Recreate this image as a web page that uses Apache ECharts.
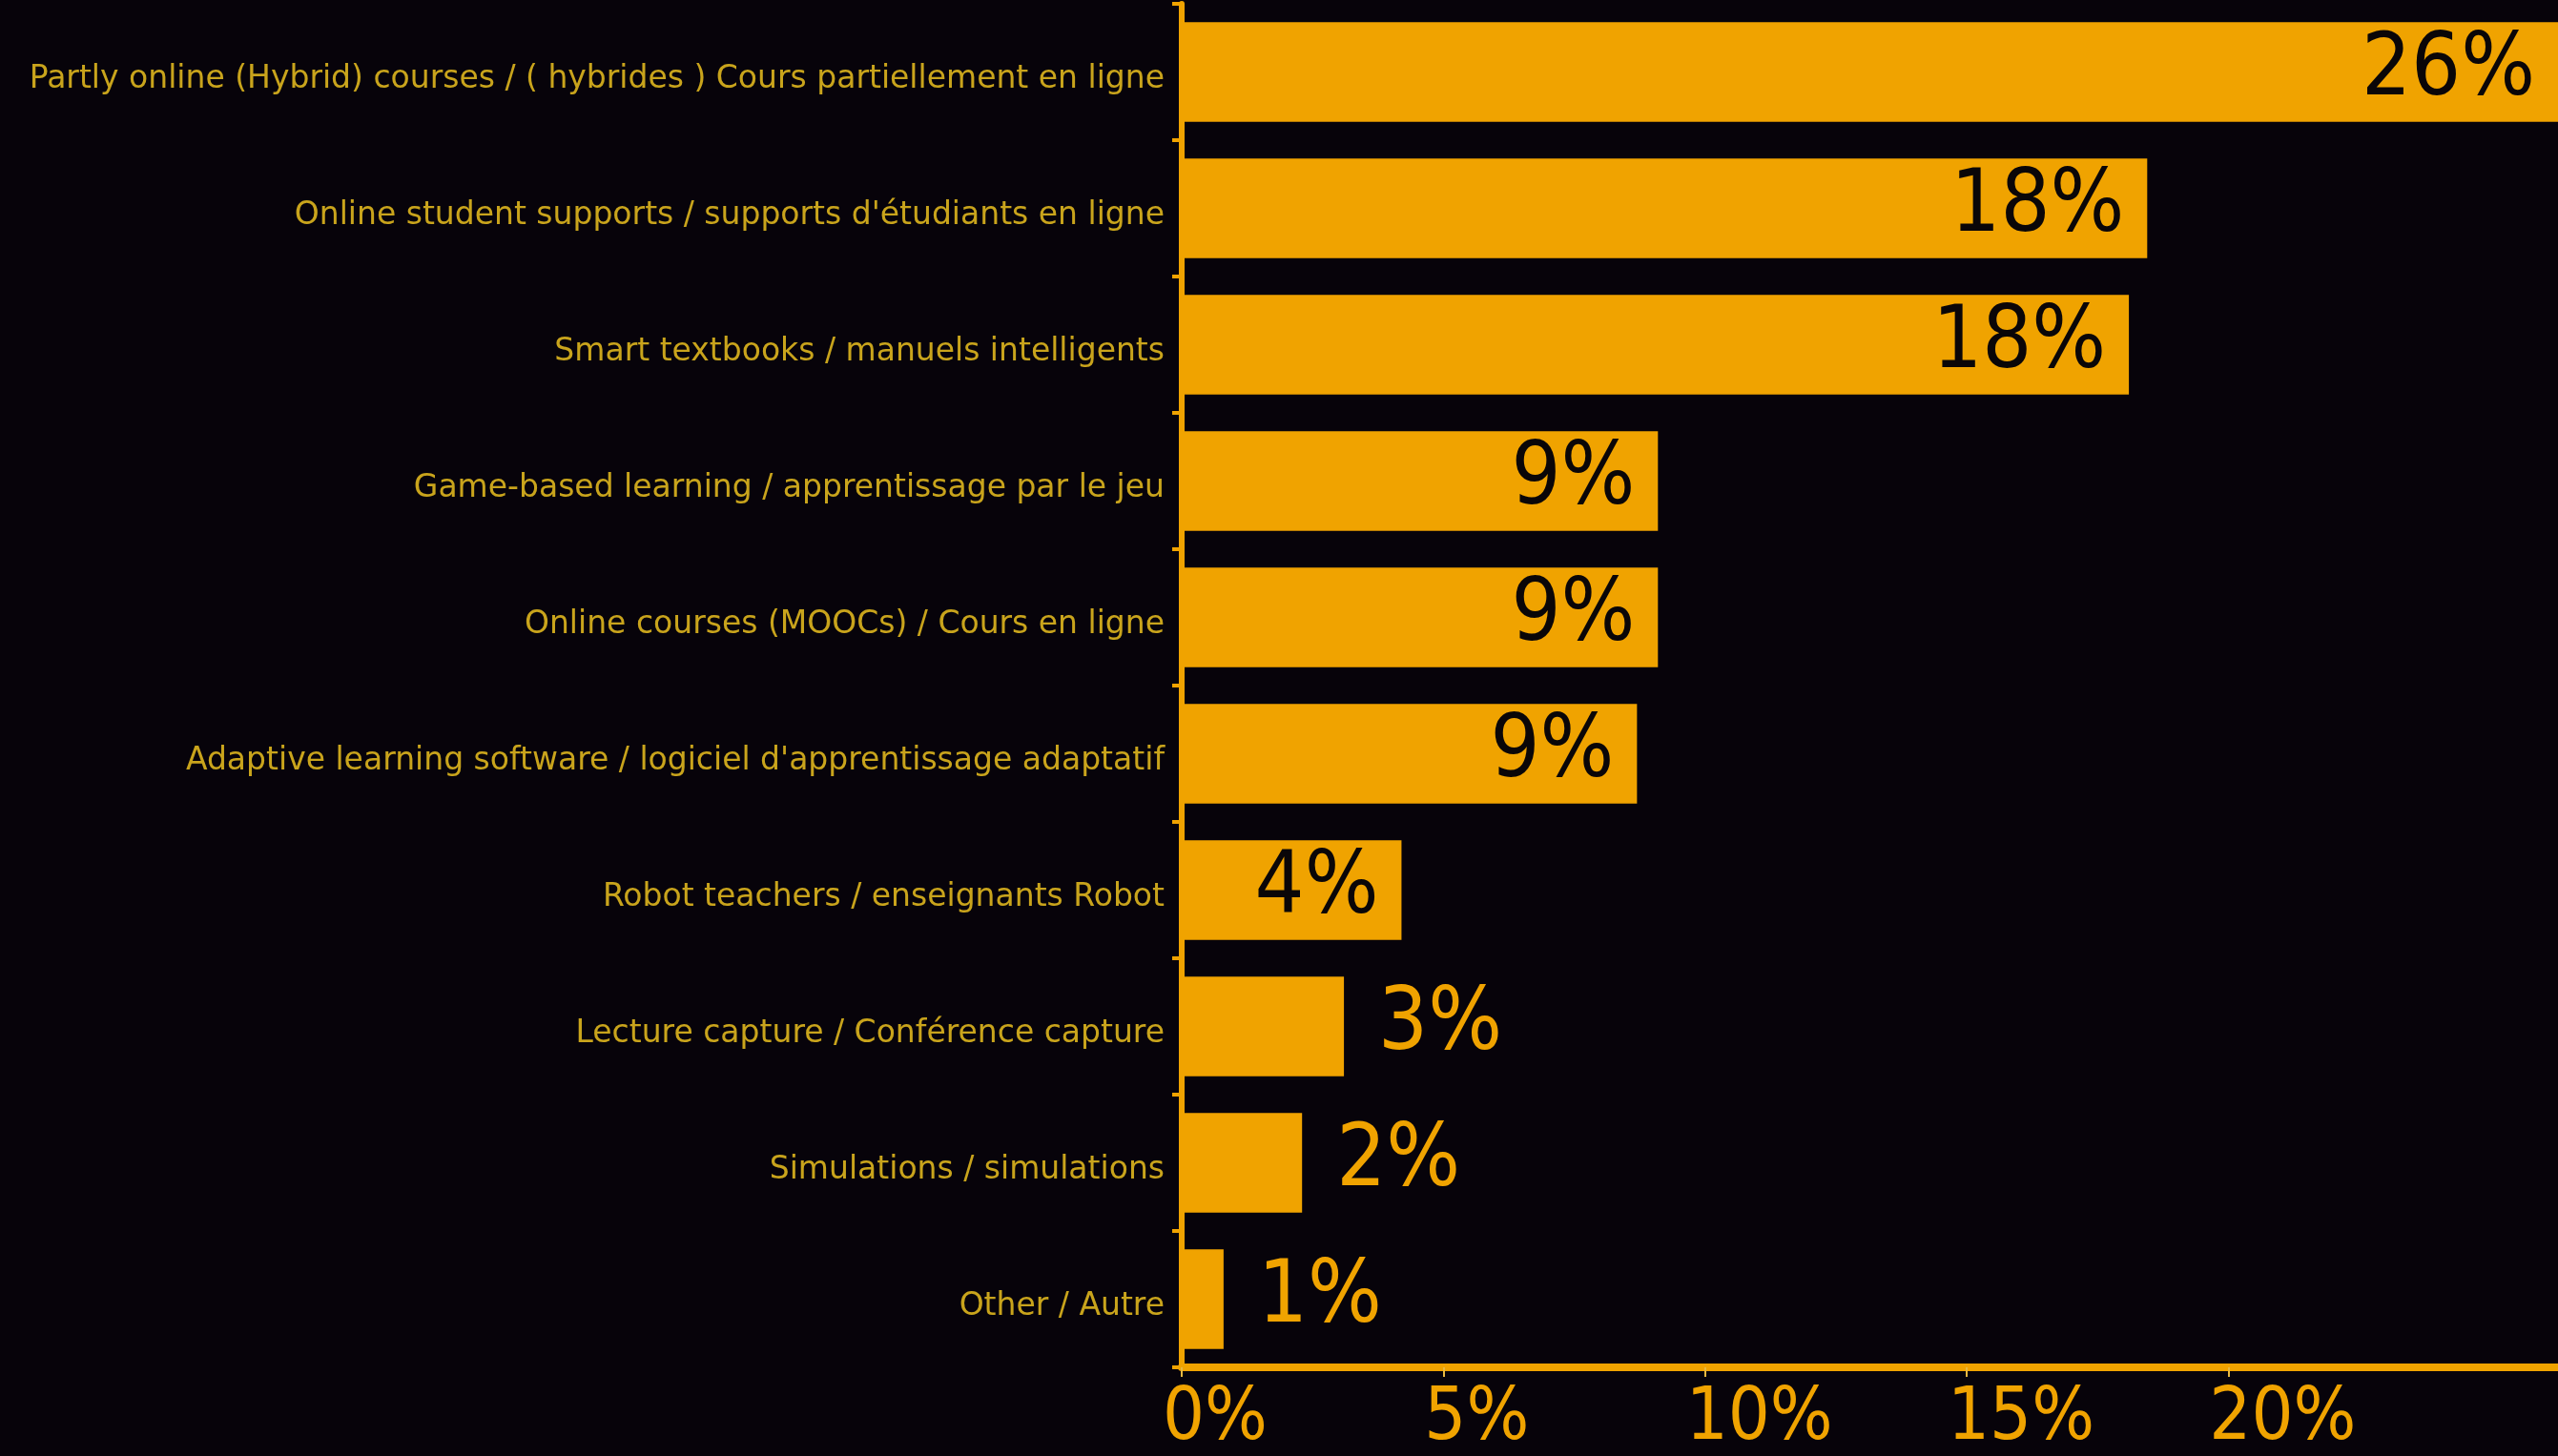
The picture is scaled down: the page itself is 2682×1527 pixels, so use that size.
<!DOCTYPE html>
<html>
<head>
<meta charset="utf-8">
<title>Technologies</title>
<script src="https://cdn.jsdelivr.net/npm/echarts@6/dist/echarts.min.js"></script>
<style>
  html, body { margin: 0; padding: 0; background: #07030a; }
  #chart { width: 2682px; height: 1527px; }
</style>
</head>
<body>
<div id="chart"></div>
<script>
const categories = [
  "Partly online (Hybrid) courses / ( hybrides ) Cours partiellement en ligne",
  "Online student supports / supports d'étudiants en ligne",
  "Smart textbooks / manuels intelligents",
  "Game-based learning / apprentissage par le jeu",
  "Online courses (MOOCs) / Cours en ligne",
  "Adaptive learning software / logiciel d'apprentissage adaptatif",
  "Robot teachers / enseignants Robot",
  "Lecture capture / Conférence capture",
  "Simulations / simulations",
  "Other / Autre"
];
const shares = [26.3, 18.45, 18.1, 9.1, 9.1, 8.7, 4.2, 3.1, 2.3, 0.8];
const xTicks = [0, 5, 10, 15, 20];

const orange = "#f0a300";
const chart = echarts.init(document.getElementById("chart"));

// big bars carry the label inside in black, small ones outside in orange
const barData = shares.map(v => {
  const inside = v >= 4;
  return {
    value: v,
    label: {
      position: inside ? "insideRight" : "right",
      distance: inside ? 24 : 36,
      color: inside ? "#0a0608" : orange
    }
  };
});

chart.setOption({
  backgroundColor: "#07030a",
  animation: false,
  grid: { left: 1239, right: 0, top: 4, bottom: 93, outerBoundsMode: "none" },
  xAxis: {
    type: "value",
    min: 0,
    max: 26.3,
    interval: 5,
    splitLine: { show: false },
    axisLine: { show: true, lineStyle: { color: orange, width: 8 } },
    axisTick: { show: true, customValues: xTicks, length: 10, lineStyle: { color: "#e8b840", width: 2 } },
    axisLabel: {
      customValues: xTicks,
      formatter: v => v + "%",
      color: orange,
      fontFamily: "DejaVu Sans Condensed",
      fontSize: 77,
      align: "left",
      padding: [0, 0, 0, -20],
      margin: 16
    }
  },
  yAxis: {
    type: "category",
    inverse: true,
    data: categories,
    axisLine: { show: true, lineStyle: { color: orange, width: 6 } },
    axisTick: { show: true, length: 10, lineStyle: { color: orange, width: 4 } },
    axisLabel: {
      margin: 18,
      // labels sit a little below the bar centre in the original
      formatter: v => "{t|" + v + "}",
      rich: {
        t: {
          color: "#c9a41c",
          fontFamily: "DejaVu Sans",
          fontSize: 33,
          padding: [16, 0, 0, 0]
        }
      }
    }
  },
  series: [{
    type: "bar",
    data: barData,
    barCategoryGap: "27%",
    itemStyle: { color: orange },
    label: {
      show: true,
      formatter: p => Math.round(p.value) + "%",
      fontFamily: "DejaVu Sans Condensed",
      fontSize: 91
    }
  }]
});
</script>
</body>
</html>
